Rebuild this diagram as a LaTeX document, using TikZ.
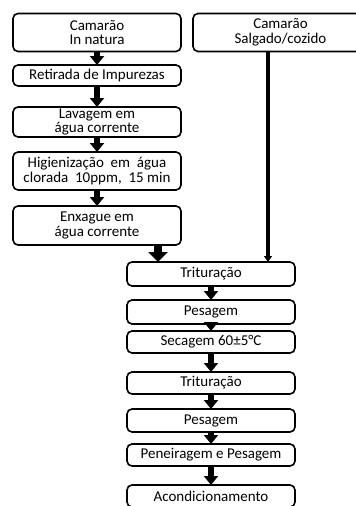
\documentclass[tikz,border=0pt]{standalone}
\usepackage{fontspec}
\setmainfont{Carlito}
\usepackage{tikz}
\usetikzlibrary{arrows.meta,positioning,calc}

\begin{document}
\begin{tikzpicture}[
    x=1pt, y=1pt,
    box/.style={rectangle, rounded corners=5pt, draw, line width=1.6pt, outer sep=0pt, inner sep=0.5pt,
                minimum width=168pt, align=center, font=\fontsize{15}{14.5}\selectfont},
    blk/.style={line width=6.5pt, -{Triangle[width=14pt,length=9pt]}},
    bigblk/.style={line width=8pt, -{Triangle[width=19pt,length=10pt]}},
    feed/.style={line width=3.5pt, -{Triangle[width=8pt,length=6pt]}}
]
    \useasboundingbox (0,0) rectangle (356,-506);

    % coluna do camarao in natura
    \node[box, minimum height=38pt] (natura) at (97,-32.5) {Camarão\\In natura};
    \node[box, minimum height=21pt, below=13.5pt of natura] (retirada) {Retirada de Impurezas};
    \node[box, minimum height=30pt, below=21pt of retirada] (lavagem) {Lavagem em\\água corrente};
    \node[box, minimum height=38pt, below=15pt of lavagem] (higien) {Higienização\ \ em\ \ água\\clorada\ \ 10ppm,\ \ 15 min};
    \node[box, minimum height=39pt, below=16pt of higien] (enxague) {Enxague em\\água corrente};

    % camarao salgado
    \node[box, minimum height=38pt, minimum width=175pt, right=12pt of natura] (salgado) {Camarão\\Salgado/cozido};

    % coluna comum
    \node[box, minimum height=24pt, below=17pt of enxague, xshift=114pt] (trit) {Trituração};
    \node[box, minimum height=24pt, below=14pt of trit] (pesa) {Pesagem};
    \node[box, minimum height=22pt, below=7pt of pesa] (secagem) {Secagem 60±5°C};
    \node[box, minimum height=22pt, below=19pt of secagem] (tritb) {Trituração};
    \node[box, minimum height=23pt, below=15pt of tritb] (pesab) {Pesagem};
    \node[box, minimum height=22pt, below=12pt of pesab] (peneira) {Peneiragem e Pesagem};
    \node[box, minimum height=22pt, below=19pt of peneira] (acond) {Acondicionamento};

    \draw[blk] (natura) -- (retirada);
    \draw[blk] (retirada) -- (lavagem);
    \draw[blk] (lavagem) -- (higien);
    \draw[blk] (higien) -- (enxague);

    \coordinate[right=31pt of trit.north west] (tritin);
    \draw[bigblk] (enxague.south -| tritin) -- (tritin);

    \coordinate[right=75pt of salgado.south west] (drop);
    \draw[feed] (drop) -- (drop |- trit.north);

    \draw[blk] (trit) -- (pesa);
    \draw[blk] (pesa) -- (secagem);
    \draw[blk] (secagem) -- (tritb);
    \draw[blk] (tritb) -- (pesab);
    \draw[blk] (pesab) -- (peneira);
    \draw[blk] (peneira) -- (acond);
\end{tikzpicture}
\end{document}
